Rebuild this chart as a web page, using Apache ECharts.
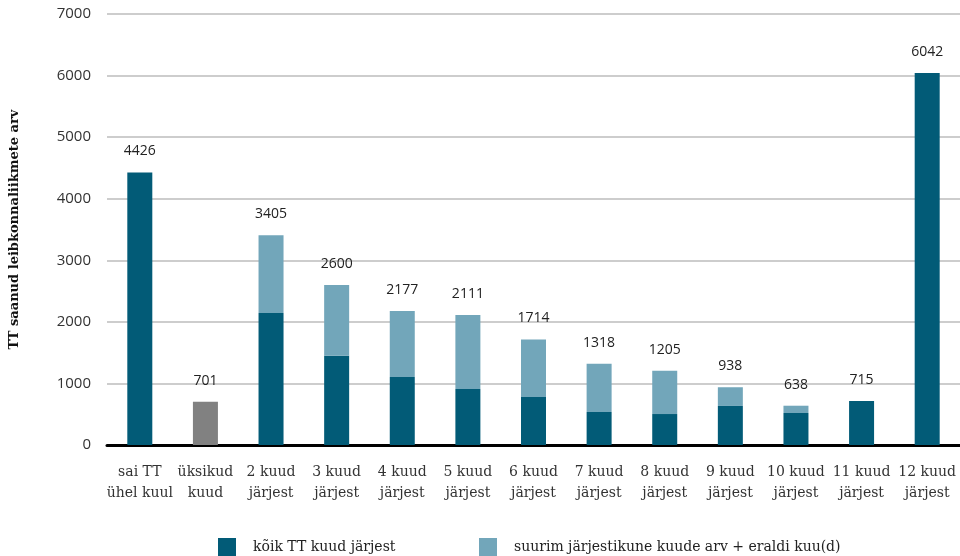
<!DOCTYPE html>
<html>
<head>
<meta charset="utf-8">
<script src="https://cdn.jsdelivr.net/npm/echarts@6/dist/echarts.min.js"></script>
<style>
  html, body { margin: 0; padding: 0; background: #fff; }
  #chart { width: 960px; height: 556px; }
</style>
</head>
<body>
<div id="chart"></div>
<script>
// Categories: number of months with subsistence benefit
const categories = [
  'sai TT\nühel kuul', 'üksikud\nkuud', '2 kuud\njärjest', '3 kuud\njärjest',
  '4 kuud\njärjest', '5 kuud\njärjest', '6 kuud\njärjest', '7 kuud\njärjest',
  '8 kuud\njärjest', '9 kuud\njärjest', '10 kuud\njärjest', '11 kuud\njärjest',
  '12 kuud\njärjest'
];

// Totals printed above each bar
const totals = [4426, 701, 3405, 2600, 2177, 2111, 1714, 1318, 1205, 938, 638, 715, 6042];

// All benefit months consecutive
const consecutiveAll = [4426, null, 2144, 1450, 1104, 910, 780, 536, 503, 634, 520, 715, 6042];

// Longest consecutive run + separate month(s)
const longestPlusSeparate = [null, null, 1261, 1150, 1073, 1201, 934, 782, 702, 304, 118, null, null];

// Single, non-consecutive months
const singleMonths = [null, 701, null, null, null, null, null, null, null, null, null, null, null];

const yTicks = { min: 0, max: 7000, interval: 1000 };

const DARK = '#025b77';
const LIGHT = '#72a6ba';
const GREY = '#818181';
const SERIF = '"DejaVu Serif", serif';
const SANS = '"Open Sans", sans-serif';

const chart = echarts.init(document.getElementById('chart'), null, { renderer: 'canvas' });

const legendBase = {
  top: 538,
  padding: 0,
  itemWidth: 18,
  itemHeight: 18,
  icon: 'rect',
  selectedMode: false,
  textStyle: { fontFamily: SERIF, fontSize: 14, color: '#222', padding: [0, 0, 0, 12] }
};

chart.setOption({
  animation: false,
  backgroundColor: '#fff',
  grid: { left: 105, top: 14, width: 858, height: 431, containLabel: false },
  legend: [
    Object.assign({}, legendBase, { left: 218, data: ['kõik TT kuud järjest'] }),
    Object.assign({}, legendBase, { left: 479, data: ['suurim järjestikune kuude arv + eraldi kuu(d)'] })
  ],
  xAxis: {
    type: 'category',
    data: categories,
    axisLine: { show: true, onZero: true, lineStyle: { color: '#000', width: 3 } },
    axisTick: { show: false },
    axisLabel: {
      interval: 0,
      margin: 17,
      fontFamily: SERIF,
      fontSize: 14,
      lineHeight: 21,
      color: '#333'
    }
  },
  yAxis: {
    type: 'value',
    min: yTicks.min,
    max: yTicks.max,
    interval: yTicks.interval,
    name: 'TT saanud leibkonnaliikmete arv',
    nameLocation: 'middle',
    nameGap: 86,
    nameRotate: 90,
    nameTextStyle: { fontFamily: SERIF, fontSize: 13, fontWeight: 'bold', color: '#111' },
    axisLine: { show: false },
    axisTick: { show: false },
    axisLabel: {
      margin: 16,
      fontFamily: SANS,
      fontSize: 15,
      color: '#333',
      formatter: (v) => String(v)
    },
    splitLine: { lineStyle: { color: '#bdbdbd', width: 1.5 } }
  },
  series: [
    {
      name: 'kõik TT kuud järjest',
      type: 'bar',
      stack: 'months',
      barWidth: 25,
      itemStyle: { color: DARK },
      data: consecutiveAll
    },
    {
      name: 'suurim järjestikune kuude arv + eraldi kuu(d)',
      type: 'bar',
      stack: 'months',
      barWidth: 25,
      itemStyle: { color: LIGHT },
      data: longestPlusSeparate
    },
    {
      name: 'üksikud kuud',
      type: 'bar',
      stack: 'months',
      barWidth: 25,
      itemStyle: { color: GREY },
      data: singleMonths
    },
    {
      // zero-height segment on top of each stack, carrying the total label
      name: 'kokku',
      type: 'bar',
      stack: 'months',
      barWidth: 25,
      itemStyle: { color: 'transparent' },
      silent: true,
      data: totals.map(() => 0),
      label: {
        show: true,
        position: 'top',
        distance: 14,
        fontFamily: SANS,
        fontSize: 14,
        color: '#222',
        formatter: (p) => String(totals[p.dataIndex])
      }
    }
  ]
});
</script>
</body>
</html>
